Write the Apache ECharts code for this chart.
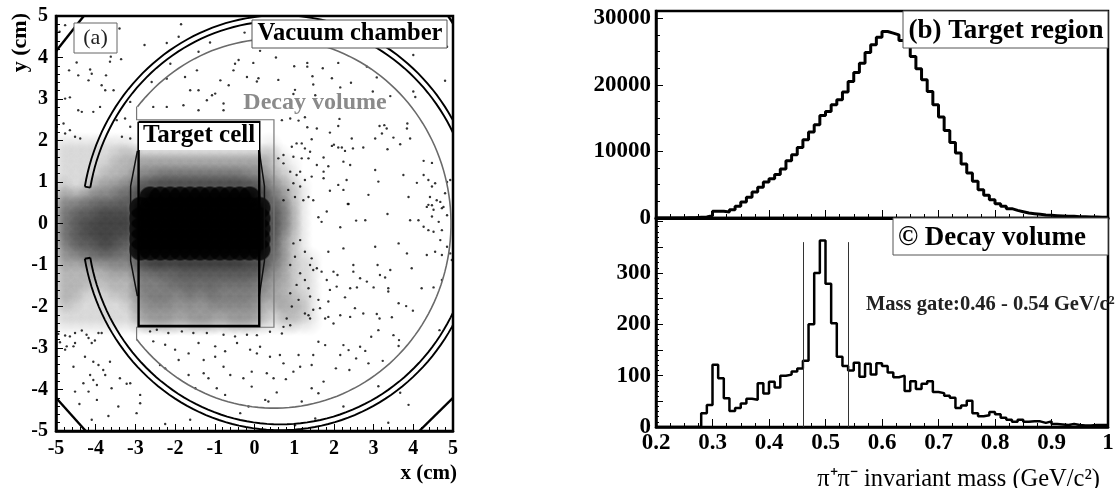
<!DOCTYPE html>
<html><head><meta charset="utf-8">
<style>html,body{margin:0;padding:0;background:#fff}#c{width:1118px;height:488px}</style>
<script src="https://cdn.jsdelivr.net/npm/echarts@6/dist/echarts.min.js"></script>
</head><body><div id="c"></div>
<script>
// Panel (a): density read per 0.25 cm cell, level 0 (empty) to 9 (solid black). x from -5, top row starts at y=2.
const densityRows = [
"111111110000000000000100000",
"111111222222222222222210000",
"111112223333333333333211000",
"111122234455555555544321000",
"211233446777777777776432100",
"333444558999999999998542100",
"445566669999999999999653100",
"456677779999999999999753100",
"456777779999999999999753100",
"456677669999999999999742100",
"345566559999999999999642100",
"333444447888888888877542110",
"222223335565666666666432110",
"222222224445555555554332110",
"222112224444454544444322110",
"221111123444343444443232210",
"111111113333333333333122210",
"111111112333233323332112110"
];
// Panel (a): individually legible events in the sparse regions, [x cm, y cm].
const sparseDots = [
[-4.77,4.78],[-4.91,4.62],[-3.40,4.70],[-1.85,4.80],[-1.12,4.36],[-2.21,4.35],[-1.91,4.50],[-0.25,4.60],[-2.77,4.30],[-3.62,4.02],[-3.64,3.90],[-3.36,3.96],[-1.41,4.14],[-0.49,3.85],[-0.40,3.94],[-2.12,3.85],[-1.45,3.69],[-4.48,3.88],[-4.14,3.71],[-4.10,3.61],[-4.67,3.69],[-4.44,3.57],[-3.74,3.57],[-4.18,3.45],[-3.85,3.33],[-3.76,3.21],[-3.55,3.21],[-2.59,3.41],[-1.75,3.53],[-2.21,3.49],[-1.62,3.21],[-1.41,3.21],[-1.07,3.09],[-0.99,3.13],[-0.65,3.33],[-0.19,3.53],[-0.86,3.45],[-0.53,3.69],[-4.65,3.04],[-4.77,3.01],[-3.13,2.93],[-2.55,2.81],[-2.21,2.81],[-1.79,2.85],[-1.41,2.73],[-1.20,2.97],[-0.78,2.89],[-0.78,2.73],[-4.44,2.73],[-4.35,2.69],[-4.06,2.69],[-3.89,2.81],[-3.47,2.49],[-3.26,2.53],[-4.98,2.33],[-4.81,2.41],[-4.65,2.25],[-4.52,2.09],[-4.77,2.17],[-4.39,2.05],[-3.34,2.09],[-3.13,2.33],[-3.13,2.05],
[0.14,4.16],[-0.03,3.87],[0.54,4.00],[1.00,3.79],[1.33,3.87],[1.33,3.78],[1.72,3.74],[2.11,3.87],[2.83,3.78],[0.10,3.50],[0.06,3.42],[0.60,3.46],[1.46,3.55],[1.48,3.35],[1.95,3.50],[2.43,3.39],[3.08,3.52],[2.16,3.28],[1.02,3.22],[0.98,3.12],[1.53,3.09],[2.98,3.18],[3.42,3.07],[4.00,3.18],[4.05,3.05],[4.80,3.44],[4.00,4.06],[4.85,4.26],[0.90,2.53],[0.69,2.49],[1.27,2.56],[1.11,2.48],[2.14,2.52],[2.11,2.35],[1.57,2.29],[1.33,2.32],[3.15,2.35],[3.27,2.37],[3.33,2.29],[3.85,2.41],[3.84,2.29],[1.90,2.19],[1.44,2.03],[2.45,2.05],[3.50,2.07],[3.92,2.05],[3.04,2.05],[3.21,2.17],[3.67,1.91],[1.95,1.87],[2.00,1.90],[2.11,1.83],[2.20,1.83],[2.28,1.75],[2.48,1.81],[2.74,1.83],[3.35,1.79],[0.94,1.85],[1.06,1.93],[1.19,1.93],[1.27,1.81],[1.40,1.73],[0.98,1.61],[1.19,1.57],[1.36,1.57],[1.57,1.41],[1.74,1.59],[0.73,1.65],[0.60,1.57],[1.86,1.38],[2.24,1.49],[2.41,1.41],[1.74,1.25],[3.04,1.29],[1.74,1.09],[1.90,0.79],[2.11,0.93],[2.32,1.05],[2.24,0.81],[3.12,1.01],[3.75,1.17],[4.09,0.98],[2.87,0.69],[4.26,1.51],[4.47,1.46],[3.88,0.64],[2.37,0.47],[4.26,1.17],[4.38,1.05],[4.47,0.89],[4.55,0.97],[4.85,1.00],[4.93,1.05],[4.80,0.73],[4.42,0.64],[4.59,0.56],[4.68,0.52],[4.47,0.44],[4.34,0.40],[4.76,0.40],[0.73,1.45],[0.90,1.25],[1.06,1.17],[1.15,1.25],[1.27,1.05],[0.98,0.97],[0.85,0.81],[1.15,0.89],[1.36,0.64],[1.48,0.56],[1.02,0.64],[1.23,0.56],[0.73,0.56],[1.44,1.13],
[4.38,0.45],[4.51,0.33],[4.72,0.37],[4.47,0.17],[4.64,0.04],[4.72,-0.16],[4.85,0.20],[4.26,-0.08],[4.38,-0.16],[4.51,-0.20],[4.68,-0.40],[4.85,-0.56],[4.72,-0.76],[4.55,-0.68],[4.34,-0.76],[4.93,-0.72],[4.97,-0.88],[3.92,0.08],[4.13,0.08],[3.84,-0.72],[3.63,-0.48],[3.04,-0.56],[3.35,0.23],[2.79,0.08],[2.56,0.07],[2.16,-0.09],[2.35,0.47],[1.82,0.29],[1.69,0.04],[1.61,0.15],[2.24,-0.60],[1.86,-0.68],[3.10,-1.00],[3.42,-1.12],[3.96,-1.08],[3.16,-1.24],[3.29,-1.30],[2.49,-1.00],[2.49,-1.16],[1.99,-1.16],[2.09,-1.24],[2.66,-1.32],[2.83,-1.40],[3.00,-1.54],[3.37,-1.56],[3.37,-1.64],[4.21,-1.56],[4.51,-1.54],[4.72,-1.36],[2.41,-1.56],[2.58,-1.54],[2.28,-1.78],[1.90,-1.60],[2.07,-1.52],[1.82,-1.36],[1.69,-1.16],[1.57,-1.08],[1.40,-1.00],[1.48,-1.12],[1.36,-1.56],[1.40,-1.76],[1.11,-1.84],[1.61,-1.84],[1.86,-1.88],[1.65,-2.04],[1.36,-2.21],[1.40,-2.29],[1.27,-2.17],[1.48,-2.08],[1.78,-2.29],[1.86,-2.25],[1.99,-2.41],[2.16,-2.21],[2.41,-2.25],[2.53,-2.04],[2.74,-2.17],[3.08,-2.18],[3.15,-2.29],[3.46,-2.26],[3.63,-1.92],[3.82,-1.99],[3.99,-2.10],[3.12,-2.57],[2.94,-2.73],[3.50,-2.69],[3.64,-2.81],[3.63,-2.95],[4.66,-2.57],[2.66,-2.97],[2.79,-3.07],[2.87,-3.37],[3.23,-3.31],[2.56,-3.25],[2.24,-2.93],[2.37,-3.05],[2.16,-3.17],[1.78,-2.93],[1.61,-2.85],[1.48,-3.17],[1.44,-3.41],[1.11,-3.17],[1.15,-3.45],[0.98,-3.57],[0.73,-3.37],[0.64,-3.17],[0.39,-3.21],[0.14,-2.97],[0.06,-3.13],[2.05,-3.49],[2.39,-3.53],[0.31,-3.61],[-0.07,-3.57],[0.48,-3.73],[0.79,-3.75],[1.74,-3.81],[-0.07,-3.93],[1.44,-3.97],[1.61,-4.09],[0.56,-4.07],[0.27,-4.25],[0.35,-4.29],[1.19,-4.29],[3.12,-3.92],[3.67,-4.08],[3.88,-4.37],[1.53,-4.70],[1.02,-4.86],[2.24,-4.41],[3.37,-4.80],[0.98,-0.48],[1.15,-0.40],[1.27,-0.68],[1.44,-0.84],[1.02,-0.80],[0.90,-1.00],[1.15,-1.20],[1.27,-1.36],[1.06,-1.48],[0.90,-1.68],[0.94,-2.00],[0.81,-2.29],[0.73,-2.49],[0.90,-2.45],[0.39,-2.61],[0.69,-2.65],[0.06,-2.69],
[-4.94,-2.66],[-4.77,-2.70],[-4.52,-2.64],[-4.35,-2.58],[-4.23,-2.68],[-4.90,-2.86],[-4.73,-2.96],[-4.65,-2.72],[-4.18,-2.76],[-4.02,-2.82],[-4.52,-2.88],[-4.56,-2.96],[-4.77,-3.04],[-4.27,-3.21],[-3.93,-2.64],[-3.85,-2.64],[-4.10,-2.88],[-4.56,-3.45],[-4.06,-3.33],[-3.93,-3.41],[-3.81,-3.53],[-3.64,-3.33],[-3.76,-3.65],[-4.14,-3.65],[-4.06,-3.77],[-4.31,-3.85],[-3.97,-3.89],[-4.18,-4.05],[-4.52,-4.05],[-3.60,-3.97],[-3.39,-3.73],[-3.22,-3.86],[-3.13,-3.85],[-3.97,-4.25],[-4.41,-4.35],[-2.88,-4.13],[-3.43,-4.41],[-3.68,-4.64],[-4.10,-4.73],[-2.97,-4.57],[-2.88,-4.33],[-2.25,-4.83],[-1.62,-4.73],[-0.36,-4.57],[-2.63,-2.60],[-2.46,-2.56],[-2.17,-2.64],[-1.83,-2.60],[-1.54,-2.64],[-1.20,-2.64],[-0.78,-2.68],[-0.49,-2.72],[-0.19,-2.68],[-2.55,-2.84],[-2.25,-2.92],[-2.00,-3.04],[-1.66,-3.13],[-1.41,-2.88],[-0.99,-2.96],[-0.74,-3.08],[-0.44,-2.88],[-0.11,-3.04],[-1.91,-3.29],[-1.28,-3.29],[-0.99,-3.21],[-0.78,-3.45],[-1.28,-3.61],[-1.16,-3.73],[-0.28,-3.73],[-0.61,-3.65],[-2.25,-3.49],[-2.38,-3.41],[-1.66,-3.65],[-0.95,-3.97],[-0.74,-4.13],[-0.15,-4.41],[-1.49,-3.97]
];
// Panel (a) geometry in cm: [centre x, centre y, radius, arc half-angle in degrees]
const chamberArcs = [[0.65,0.02,5.0,170],[0.65,0.02,4.86,170]];
const decayArc = [0.5,0,4.45,141.2];
const cornerLines = [[[-5,4.15],[-4.3,5]],[[-5,-4.2],[-4.25,-5]],[[4.15,-5],[5,-4.2]],[[4.88,5],[5,4.82]]];
const decayRect = [[-2.97,2.82],[-2.97,2.5],[0.49,2.5],[0.49,-2.5],[-2.97,-2.5],[-2.97,-2.82]];
const targetOutline = [[-2.92,2.45],[0.12,2.45],[0.12,-2.47],[-2.92,-2.47],[-2.92,2.45]];
const targetBulgeL = [[-2.95,1.75],[-3.12,0.9],[-3.12,-0.9],[-2.95,-1.75]];
const targetBulgeR = [[0.12,1.75],[0.25,0.9],[0.25,-0.9],[0.12,-1.75]];

// Panels (b), (c): counts in 0.01 GeV/c² bins from 0.20 to 1.00
const binStart = 0.2, binWidth = 0.01;
const targetCounts = [0,0,0,0,0,50,50,100,150,350,1000,1000,900,1250,1750,2400,3100,3900,4600,5400,5900,6550,7350,8600,9500,10600,11750,12900,14000,15400,16000,17000,17750,18900,20500,21850,23250,24850,26000,27150,28000,27750,27500,26650,25750,24250,22400,20750,19000,17000,15150,13150,11350,9750,8100,6750,5500,4250,3400,2750,2150,1750,1400,1150,950,750,650,550,450,400,350,300,250,250,200,200,150,150,100,100];
const decayCounts = [0,0,0,0,0,0,0,0,27,43,121,95,56,31,37,46,55,53,85,65,88,77,100,102,108,114,129,200,300,363,279,202,137,119,110,125,98,123,102,124,119,106,97,100,70,89,74,84,89,68,66,61,57,37,42,51,27,21,23,29,25,18,14,10,14,10,11,11,8,11,6,5,4,6,4,3,3,4,4,4];
const massGate = [0.46,0.54];
const gateTop = 360;

const serif = '"Liberation Serif","Times New Roman",serif';
const toSteps = arr => arr.map((v,i)=>[+(binStart+i*binWidth).toFixed(2),v]).concat([[1,arr[arr.length-1]]]);
const axisLabA = {fontFamily:serif,fontWeight:'bold',fontSize:20,color:'#000',margin:8};
const axisLabR = {fontFamily:serif,fontWeight:'bold',fontSize:23,color:'#000',margin:5};
const poly = (pts,api,stroke,w)=>({type:'polyline',shape:{points:pts.map(p=>api.coord(p))},style:{stroke,lineWidth:w,fill:null}});
function arcPts(a){const out=[];for(let d=-a[3];d<=a[3]+1e-6;d+=2){const t=d*Math.PI/180;out.push([a[0]+a[2]*Math.cos(t),a[1]+a[2]*Math.sin(t)]);}return out;}
const cells=[];densityRows.forEach((r,ri)=>{for(let c=0;c<r.length;c++){const v=+r[c];if(v>0)cells.push([-5+c*0.25,2-ri*0.25,v]);}});
const frame = {onZero:false,lineStyle:{color:'#000',width:2.5}};

const chart = echarts.init(document.getElementById('c'),null,{renderer:'canvas'});
chart.setOption({
 animation:false,
 grid:[
  {left:56,top:16,width:397,height:415,show:true,borderColor:'#000',borderWidth:2.5,outerBoundsMode:'none'},
  {left:656,top:11,width:452,height:207,show:true,borderColor:'#000',borderWidth:2.5,outerBoundsMode:'none'},
  {left:656,top:218,width:452,height:209,show:true,borderColor:'#000',borderWidth:2.5,outerBoundsMode:'none'}
 ],
 xAxis:[
  {gridIndex:0,type:'value',min:-5,max:5,interval:1,name:'x (cm)',nameLocation:'end',nameGap:4,
   nameTextStyle:{fontFamily:serif,fontWeight:'bold',fontSize:21,align:'right',verticalAlign:'top',padding:[32,0,0,0],color:'#000'},
   axisLine:frame,axisTick:{inside:true,length:7,lineStyle:{color:'#000',width:1}},
   minorTick:{show:true,splitNumber:5,length:4,lineStyle:{color:'#000',width:1}},splitLine:{show:false},axisLabel:axisLabA},
  {gridIndex:1,type:'value',min:0.2,max:1,interval:0.1,axisLine:{onZero:false,lineStyle:{color:'#000',width:3}},
   axisTick:{inside:true,length:8,lineStyle:{color:'#000',width:1}},minorTick:{show:true,splitNumber:4,length:4,lineStyle:{color:'#000',width:1}},splitLine:{show:false},axisLabel:{show:false}},
  {gridIndex:2,type:'value',min:0.2,max:1,interval:0.1,name:'π⁺π⁻ invariant mass (GeV/c²)',nameLocation:'end',nameGap:-8,
   nameTextStyle:{fontFamily:serif,fontSize:24.5,align:'right',verticalAlign:'top',padding:[40,0,0,0],color:'#000'},
   axisLine:frame,axisTick:{inside:true,length:8,lineStyle:{color:'#000',width:1}},
   minorTick:{show:true,splitNumber:4,length:4,lineStyle:{color:'#000',width:1}},splitLine:{show:false},axisLabel:axisLabR}
 ],
 yAxis:[
  {gridIndex:0,type:'value',min:-5,max:5,interval:1,name:'y (cm)',nameLocation:'end',nameRotate:90,nameGap:3,
   nameTextStyle:{fontFamily:serif,fontWeight:'bold',fontSize:22,align:'right',verticalAlign:'bottom',padding:[0,0,25,0],color:'#000'},
   axisLine:frame,axisTick:{inside:true,length:7,lineStyle:{color:'#000',width:1}},
   minorTick:{show:true,splitNumber:5,length:4,lineStyle:{color:'#000',width:1}},splitLine:{show:false},axisLabel:axisLabA},
  {gridIndex:1,type:'value',min:0,max:31080,interval:10000,
   axisLine:frame,axisTick:{inside:true,length:7,lineStyle:{color:'#000',width:1}},
   minorTick:{show:true,splitNumber:4,length:4,lineStyle:{color:'#000',width:1}},splitLine:{show:false},
   axisLabel:Object.assign({},axisLabR,{showMaxLabel:false,formatter:v=>v%10000===0?String(v):''})},
  {gridIndex:2,type:'value',min:0,max:407,interval:50,
   axisLine:frame,axisTick:{inside:true,length:7,lineStyle:{color:'#000',width:1}},
   minorTick:{show:true,splitNumber:5,length:3,lineStyle:{color:'#000',width:1}},splitLine:{show:false},
   axisLabel:Object.assign({},axisLabR,{formatter:v=>(v%100===0&&v<=300)?String(v):''})}
 ],
 series:[
  {type:'custom',xAxisIndex:0,yAxisIndex:0,clip:true,z:2,silent:true,data:cells,encode:{x:0,y:1},
   renderItem:(p,api)=>{
     const cx=api.value(0)+0.125, cy=api.value(1)-0.125, v=api.value(2), h=v===9?0.3:0.36;
     const a=api.coord([cx-h,cy+h]), b=api.coord([cx+h,cy-h]);
     const alpha=v===9?1:v/9*0.55;
     return {type:'rect',shape:{x:a[0],y:a[1],width:b[0]-a[0],height:b[1]-a[1]},
       style:{fill:{type:'radial',x:0.5,y:0.5,r:0.5,colorStops:[{offset:0,color:`rgba(0,0,0,${alpha})`},{offset:v===9?0.85:0.4,color:`rgba(0,0,0,${alpha*0.8})`},{offset:1,color:'rgba(0,0,0,0)'}]}}};}},
  {type:'scatter',xAxisIndex:0,yAxisIndex:0,data:sparseDots,symbol:'circle',symbolSize:2.4,itemStyle:{color:'#000'},silent:true,z:3},
  {type:'custom',xAxisIndex:0,yAxisIndex:0,clip:true,z:4,silent:true,data:[[0,0]],encode:{x:0,y:1},
   renderItem:(p,api)=>{
    const o=arcPts(chamberArcs[0]),i=arcPts(chamberArcs[1]);
    const kids=[poly(arcPts(decayArc),api,'#6a6a6a',1.6),poly(decayRect,api,'#777',1.2),
      poly(o,api,'#000',1.9),poly(i,api,'#000',1.9),
      poly([o[0],i[0]],api,'#000',1.9),poly([o[o.length-1],i[i.length-1]],api,'#000',1.9),
      poly(targetBulgeL,api,'#111',1.5),poly(targetBulgeR,api,'#111',1.5),poly(targetOutline,api,'#000',2.4)];
    cornerLines.forEach(l=>kids.push(poly(l,api,'#000',2.4)));
    return {type:'group',children:kids};}},
  {type:'line',xAxisIndex:1,yAxisIndex:1,data:toSteps(targetCounts),step:'end',showSymbol:false,lineStyle:{color:'#000',width:3},silent:true,z:4},
  {type:'line',xAxisIndex:2,yAxisIndex:2,data:toSteps(decayCounts),step:'end',showSymbol:false,lineStyle:{color:'#000',width:2.5},silent:true,z:4,
   markLine:{silent:true,symbol:'none',label:{show:false},lineStyle:{color:'#333',width:1,type:'solid'},
     data:massGate.map(m=>[{coord:[m,0]},{coord:[m,gateTop]}])}}
 ],
 graphic:[
  {type:'rect',z:100,shape:{x:74,y:23,width:43,height:30},style:{fill:'#fff',stroke:'#666',lineWidth:1}},
  {type:'text',z:101,x:95.5,y:38,style:{text:'(a)',font:'22px '+serif,fill:'#222',textAlign:'center',textVerticalAlign:'middle'}},
  {type:'rect',z:100,shape:{x:252,y:20,width:195,height:28},style:{fill:'#fff',stroke:'#555',lineWidth:1}},
  {type:'text',z:101,x:350,y:34,style:{text:'Vacuum chamber',font:'bold 24.5px '+serif,fill:'#000',textAlign:'center',textVerticalAlign:'middle'}},
  {type:'text',z:101,x:315,y:103,style:{text:'Decay volume',font:'bold 24px '+serif,fill:'#8a8a8a',textAlign:'center',textVerticalAlign:'middle'}},
  {type:'rect',z:100,shape:{x:139,y:123,width:120,height:27},style:{fill:'#fff',stroke:null}},
  {type:'text',z:101,x:199,y:136,style:{text:'Target cell',font:'bold 25px '+serif,fill:'#000',textAlign:'center',textVerticalAlign:'middle'}},
  {type:'rect',z:100,shape:{x:903,y:11,width:205,height:37},style:{fill:'#fff',stroke:'#555',lineWidth:1}},
  {type:'text',z:101,x:1006,y:31,style:{text:'(b) Target region',font:'bold 27px '+serif,fill:'#000',textAlign:'center',textVerticalAlign:'middle'}},
  {type:'rect',z:100,shape:{x:893,y:218,width:215,height:37},style:{fill:'#fff',stroke:'#555',lineWidth:1}},
  {type:'text',z:101,x:992,y:238,style:{text:'© Decay volume',font:'bold 27px '+serif,fill:'#000',textAlign:'center',textVerticalAlign:'middle'}},
  {type:'text',z:101,x:866,y:305,style:{text:'Mass gate:0.46 - 0.54 GeV/c²',font:'bold 20.5px '+serif,fill:'#222',textAlign:'left',textVerticalAlign:'middle'}}
 ]
});
</script></body></html>
